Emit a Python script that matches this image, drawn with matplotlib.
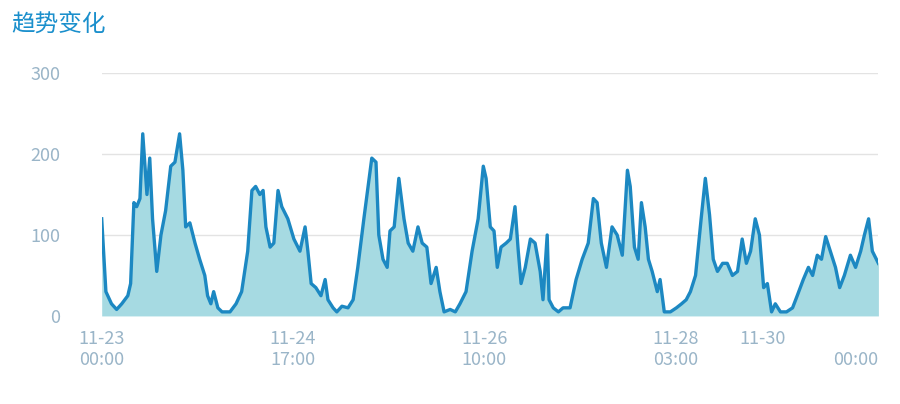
import numpy as np
import matplotlib.pyplot as plt

plt.rcParams['font.family'] = ['Noto Sans CJK SC', 'DejaVu Sans']

# hours since 11-23 00:00
hours = [0, 0.9, 2.1, 3.2, 4.3, 5.6, 6.2, 6.9, 7.5, 8.2, 8.8, 9.7, 10.3, 10.9, 11.8, 12.7, 13.7, 14.8, 15.7, 16.7,
         17.4, 18.0, 18.9, 20.0, 21.0, 22.1, 22.7, 23.4, 24.0, 24.9, 25.8, 27.5, 28.8, 30.0, 31.3, 32.2, 33.0, 33.9,
         34.6, 35.2, 36.1, 36.9, 37.8, 38.6, 39.9, 41.2, 42.5, 43.6, 44.2, 44.9, 45.9, 47.0, 47.9, 48.5, 49.6, 50.4,
         51.5, 52.8, 53.9, 54.9, 56.2, 57.1, 57.9, 58.8, 59.4, 60.3, 61.2, 61.8, 62.7, 63.7, 64.8, 65.7, 66.7, 67.8,
         68.7, 69.7, 70.6, 71.7, 72.5, 73.4, 74.7, 75.8, 76.8, 78.1, 79.4, 80.7, 81.8, 82.4, 83.3, 84.1, 84.8, 85.6,
         86.7, 87.6, 88.6, 89.3, 89.9, 90.8, 91.9, 92.9, 94.0, 94.6, 95.5, 95.9, 96.8, 97.9, 98.9, 100.4, 101.7,
         103.0, 104.3, 105.4, 106.2, 107.1, 108.2, 109.4, 110.5, 111.6, 112.7, 113.3, 114.2, 115.0, 115.7, 116.5,
         117.2, 118.0, 119.1, 119.7, 120.6, 121.9, 123.2, 124.3, 125.3, 126.2, 127.3, 128.5, 129.4, 130.3, 131.1,
         132.0, 133.1, 134.1, 135.2, 136.3, 137.3, 138.2, 139.1, 140.1, 141.0, 141.9, 142.7, 143.6, 144.4, 145.5,
         146.8, 148.1, 149.1, 150.4, 151.5, 152.4, 153.4, 154.3, 155.2, 156.2, 157.3, 158.2, 159.2, 160.5, 161.6,
         162.7, 163.5, 164.4, 165.2, 166.5]
values = [120, 30, 15, 8, 15, 25, 40, 140, 135, 145, 225, 150, 195, 120, 55, 100, 130, 185, 190, 225,
          180, 110, 115, 90, 70, 50, 25, 15, 30, 10, 5, 5, 15, 30, 80, 155, 160, 150,
          155, 110, 85, 90, 155, 135, 120, 95, 80, 110, 80, 40, 35, 25, 45, 20, 10, 5,
          12, 10, 20, 60, 120, 160, 195, 190, 100, 70, 60, 105, 110, 170, 120, 90, 80, 110,
          90, 85, 40, 60, 30, 5, 8, 5, 15, 30, 80, 120, 185, 170, 110, 105, 60, 85,
          90, 95, 135, 80, 40, 60, 95, 90, 55, 20, 100, 20, 10, 5, 10, 10, 45,
          70, 90, 145, 140, 90, 60, 110, 100, 75, 180, 160, 85, 70, 140,
          110, 70, 55, 30, 45, 5, 5, 10, 15, 20, 30, 50, 120, 170, 125,
          70, 55, 65, 65, 50, 55, 95, 65, 80, 120, 100, 35, 40, 5, 15,
          5, 5, 10, 25, 45, 60, 50, 75, 70, 98, 80, 60, 35, 50, 75, 60,
          80, 100, 120, 80, 65]

tick_hours = [0, 41, 82, 123, 141.6, 166.5]
tick_labels = ['11-23\n00:00', '11-24\n17:00', '11-26\n10:00', '11-28\n03:00', '11-30\n', '\n00:00']

fig = plt.figure(figsize=(9, 4.04), dpi=100)
ax = fig.add_axes([0.113, 0.218, 0.863, 0.601])

ax.fill_between(hours, values, color='#a6dae2', lw=0)
ax.plot(hours, values, color='#1c88c2', lw=2.4)

ax.set_xlim(0, 166.5)
ax.set_ylim(0, 300)
ax.set_yticks([0, 100, 200, 300])
ax.set_xticks(tick_hours)
ax.set_xticklabels(tick_labels)
ax.tick_params(colors='#9ab5c8', labelsize=13, length=0, pad=10)
ax.tick_params(axis='y', pad=30)
for lbl in ax.get_xticklabels()[-1:]:
    lbl.set_horizontalalignment('right')
ax.grid(axis='y', color='#e3e3e3', lw=1)
ax.set_axisbelow(True)
for s in ax.spines.values():
    s.set_visible(False)

fig.text(0.012, 0.94, '趋势变化', fontsize=17, color='#1a8fcc', va='center')

fig.savefig('out.png')
